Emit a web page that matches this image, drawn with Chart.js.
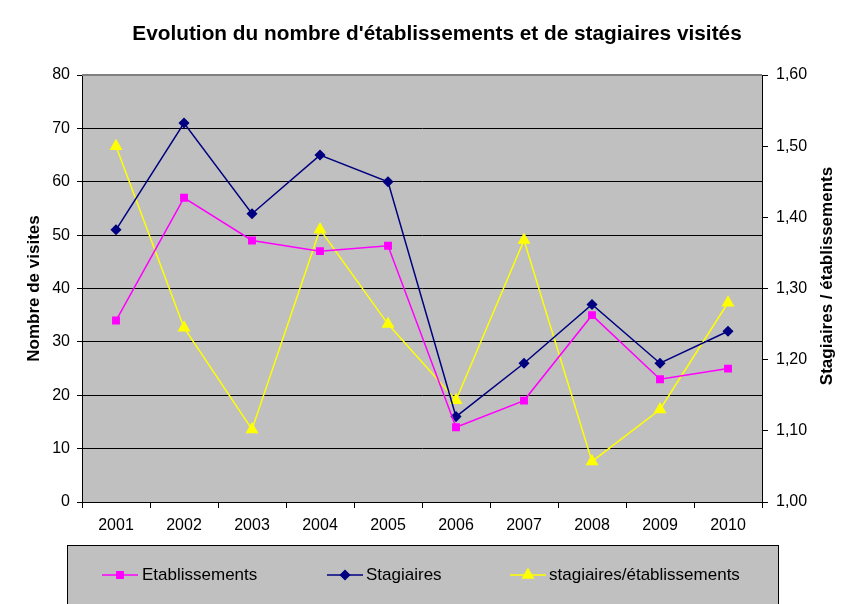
<!DOCTYPE html>
<html><head><meta charset="utf-8">
<script src="https://cdn.jsdelivr.net/npm/chart.js@4/dist/chart.umd.min.js"></script>
<style>html,body{margin:0;padding:0;background:#fff}#wrap{width:843px;height:604px;position:relative}</style>
</head><body><div id="wrap"><canvas id="c" width="843" height="604"></canvas></div>
<script>
const years = ['2001','2002','2003','2004','2005','2006','2007','2008','2009','2010'];
const etablissements = [34, 57, 49, 47, 48, 14, 19, 35, 23, 25];
const stagiaires = [51, 71, 54, 65, 60, 16, 26, 37, 26, 32];
const ratio = [1.50, 1.245, 1.102, 1.383, 1.25, 1.143, 1.368, 1.057, 1.13, 1.28];
const titleText = "Evolution du nombre d'établissements et de stagiaires visités";
const leftTitle = 'Nombre de visites';
const rightTitle = 'Stagiaires / établissements';
const FONT = "'Liberation Sans', Arial, sans-serif";

const PL = 82, PR = 762, PT = 75, PB = 502;

const bgPlugin = {
  id: 'bg',
  beforeDraw(chart) {
    const {ctx, chartArea: a} = chart;
    ctx.save();
    ctx.fillStyle = '#C0C0C0';
    ctx.fillRect(a.left, a.top, a.right - a.left, a.bottom - a.top);
    ctx.restore();
  },
  afterDraw(chart) {
    const {ctx, chartArea: a} = chart;
    ctx.save();
    ctx.strokeStyle = '#808080';
    ctx.lineWidth = 2;
    ctx.beginPath(); ctx.moveTo(a.left, a.top); ctx.lineTo(a.right, a.top); ctx.stroke();
    // main title
    ctx.fillStyle = '#000';
    ctx.font = 'bold 20.8px ' + FONT;
    ctx.textAlign = 'center'; ctx.textBaseline = 'middle';
    ctx.fillText(titleText, 437, 34);
    // right axis title
    ctx.font = 'bold 17px ' + FONT;
    ctx.translate(827, 276); ctx.rotate(-Math.PI/2);
    ctx.fillText(rightTitle, 0, 0);
    ctx.restore();
    // legend
    ctx.save();
    ctx.fillStyle = '#C0C0C0';
    ctx.strokeStyle = '#000';
    ctx.lineWidth = 1;
    ctx.fillRect(67.5, 545.5, 711, 70);
    ctx.strokeRect(67.5, 545.5, 711, 70);
    const items = [
      {x: 102, tx: 142, ds: 0},
      {x: 327, tx: 366, ds: 1},
      {x: 510, tx: 549, ds: 2}
    ];
    const y = 575;
    items.forEach(it => {
      const d = chart.data.datasets[it.ds];
      ctx.strokeStyle = d.borderColor; ctx.lineWidth = 1.5;
      ctx.beginPath(); ctx.moveTo(it.x, y); ctx.lineTo(it.x + 36, y); ctx.stroke();
      ctx.fillStyle = d.borderColor;
      Chart.helpers.drawPoint(ctx, {pointStyle: d.pointStyle, radius: d.pointRadius, borderWidth: 1, rotation: 0}, it.x + 18, y);
      ctx.fillStyle = '#000';
      ctx.font = '17px ' + FONT;
      ctx.textAlign = 'left'; ctx.textBaseline = 'middle';
      ctx.fillText(d.label, it.tx, y);
    });
    ctx.restore();
  }
};

function mk(label, data, color, style, r, axis) {
  return {label, data, borderColor: color, backgroundColor: color, pointBackgroundColor: color, pointBorderColor: color,
    pointStyle: style, pointRadius: r, pointHoverRadius: r, borderWidth: 1.5, tension: 0, yAxisID: axis};
}

new Chart(document.getElementById('c'), {
  type: 'line',
  data: {
    labels: years,
    datasets: [
      mk('Etablissements', etablissements, '#FF00FF', 'rect', 4.5, 'y'),
      mk('Stagiaires', stagiaires, '#000080', 'rectRot', 4.5, 'y'),
      mk('stagiaires/établissements', ratio, '#FFFF00', 'triangle', 6, 'y2')
    ]
  },
  options: {
    responsive: false, animation: false,
    layout: {padding: {left: 0, right: 0, top: PT, bottom: 0}},
    plugins: {
      legend: {display: false},
      tooltip: {enabled: false},
      title: {display: false}
    },
    scales: {
      x: {
        offset: true,
        grid: {offset: true, drawOnChartArea: false, color: '#000', tickLength: 6, tickColor: '#000'},
        border: {color: '#000', width: 1},
        ticks: {color: '#000', font: {family: FONT, size: 16}, padding: 8, maxRotation: 0},
        afterFit(s) { s.height = 604 - PB; }
      },
      y: {
        position: 'left', min: 0, max: 80,
        ticks: {stepSize: 10, color: '#000', font: {family: FONT, size: 16}, padding: 7},
        grid: {color: '#000', tickLength: 5, tickColor: '#000'},
        border: {color: '#000', width: 1},
        title: {display: true, text: leftTitle, color: '#000', font: {family: FONT, size: 17, weight: 'bold'}, padding: {top: 24, bottom: 0}},
        afterFit(s) { s.width = PL; }
      },
      y2: {
        position: 'right', min: 1, max: 1.6,
        ticks: {stepSize: 0.1, color: '#000', font: {family: FONT, size: 16}, padding: 8,
          callback: v => v.toFixed(2).replace('.', ',')},
        grid: {drawOnChartArea: false, color: '#000', tickLength: 6, tickColor: '#000'},
        border: {color: '#000', width: 1},
        afterFit(s) { s.width = 843 - PR; }
      }
    }
  },
  plugins: [bgPlugin]
});
</script>
</body></html>
